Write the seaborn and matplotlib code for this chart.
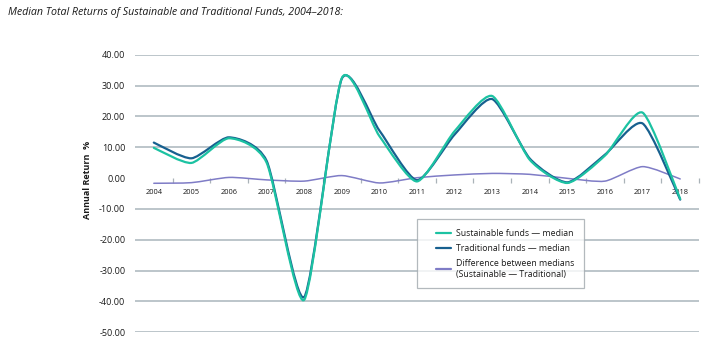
import matplotlib
matplotlib.use("Agg")
import matplotlib.pyplot as plt
from matplotlib.path import Path
from matplotlib.patches import PathPatch
from matplotlib.lines import Line2D
from matplotlib.legend_handler import HandlerLine2D
import numpy as np
import pandas as pd
import seaborn as sns

# values
years = list(range(2004, 2019))
sustainable = [9.8, 4.9, 12.9, 5.0, -39.5, 32.4, 13.6, -1.1, 15.2, 26.6, 5.9, -1.6, 7.3, 21.2, -6.8]
traditional = [11.5, 6.4, 13.2, 5.6, -38.6, 32.2, 15.4, -0.7, 14.1, 25.6, 6.3, -1.4, 7.6, 17.7, -7.0]
difference = [-1.7, -1.5, 0.2, -0.6, -1.0, 0.8, -1.6, 0.1, 1.0, 1.5, 1.2, -0.1, -1.0, 3.7, -0.3]

series_names = ["Difference between medians\n(Sustainable \u2014 Traditional)",
                "Traditional funds \u2014 median",
                "Sustainable funds \u2014 median"]
series_colors = ["#7f7cc6", "#17608f", "#1cc2a2"]
series_widths = [1.1, 1.6, 1.6]
legend_order = [2, 1, 0]

ytick_vals = [40, 30, 20, 10, 0, -10, -20, -30, -40, -50]
ytick_labels = ["40.00", "30.00", "20.00", "10.00", "0.00", "-10.00", "-20.00", "-30.00", "-40.00", "-50.00"]
title = "Median Total Returns of Sustainable and Traditional Funds, 2004\u20132018:"
ylabel = "Annual Return  %"

df = pd.concat([
    pd.DataFrame({"year": years, "value": vals, "series": name})
    for name, vals in zip(series_names, [difference, traditional, sustainable])
])


def smooth_path(xs, ys, k=0.11):
    # smoothed line like the spreadsheet one: bezier segments through the points
    pts = np.column_stack([xs, ys])
    ext = np.vstack([pts[0], pts, pts[-1]])
    verts = [pts[0]]
    codes = [Path.MOVETO]
    for i in range(1, len(ext) - 2):
        p0, p1, p2, p3 = ext[i - 1], ext[i], ext[i + 1], ext[i + 2]
        verts += [p1 + (p2 - p0) * k, p2 - (p3 - p1) * k, p2]
        codes += [Path.CURVE4] * 3
    return Path(verts, codes)


sns.set_style("white")
plt.rcParams["font.family"] = ["Open Sans", "DejaVu Sans"]

fig = plt.figure(figsize=(7.13, 3.56), dpi=100)
ax = fig.add_axes([135 / 713, 1 - 332.2 / 356, 564 / 713, 277.5 / 356])

sns.lineplot(data=df, x="year", y="value", hue="series", hue_order=series_names,
             palette=series_colors, legend=False, ax=ax)

# swap the straight polylines for smoothed curves
for line, lw in zip(list(ax.lines), series_widths):
    xy = line.get_xydata()
    patch = PathPatch(smooth_path(xy[:, 0], xy[:, 1]), facecolor="none",
                      edgecolor=line.get_color(), lw=lw, capstyle="round", zorder=3)
    ax.add_patch(patch)
    line.remove()

for s in ["top", "right", "left"]:
    ax.spines[s].set_visible(False)
ax.spines["bottom"].set_position(("data", 0))
ax.spines["bottom"].set_visible(False)

ax.set_xlim(2003.5, 2018.5)
ax.set_ylim(-50, 40)
ax.set_yticks(ytick_vals)
ax.set_yticklabels(ytick_labels, fontsize=6.5, color="#1a1a1a")
for v in ytick_vals:
    if v != 0:
        ax.axhline(v, color="#a9b5bc", lw=1.1, zorder=1)

ax.set_xticks(years)
ax.set_xticklabels([str(y) for y in years], fontsize=5.4, color="#1a1a1a")
ax.set_xticks([y + 0.5 for y in years], minor=True)
ax.tick_params(axis="x", which="major", length=0, pad=8)
ax.tick_params(axis="x", which="minor", bottom=True, length=3.5, width=0.9,
               color="#aab3b8", direction="out")
ax.tick_params(axis="y", length=0, pad=7)

ax.set_xlabel("")
ax.set_ylabel(ylabel, fontsize=6.5, fontweight="bold", color="#1a1a1a")
ax.yaxis.set_label_coords(-0.077, 0.55)

handles = [Line2D([0], [0], color=series_colors[i], lw=1.6) for i in legend_order]
labels = [series_names[i] for i in legend_order]
leg = ax.legend(handles, labels, loc="upper left", bbox_to_anchor=(0.5, 0.408),
                frameon=True, fancybox=False, fontsize=6.3, handlelength=2.8,
                handletextpad=0.6, borderpad=1.1, labelspacing=0.72, borderaxespad=0,
                handler_map={Line2D: HandlerLine2D(xpad=1.1)})
leg.get_frame().set_edgecolor("#a0a8ad")
leg.get_frame().set_linewidth(0.9)
for t in leg.get_texts():
    t.set_color("#1a1a1a")

fig.text(8 / 713, 1 - 13 / 356, title, fontsize=7.7, style="italic", va="center",
         ha="left", color="#1a1a1a")

fig.savefig("out.png", dpi=100)
